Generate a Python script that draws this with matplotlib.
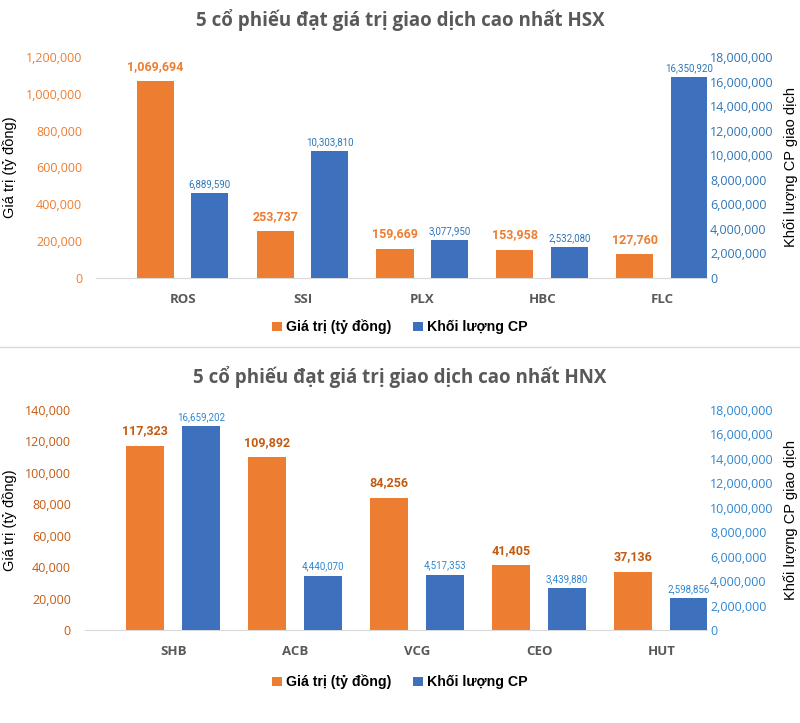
import numpy as np
import matplotlib.pyplot as plt

# HSX data
hsx_codes = ['ROS', 'SSI', 'PLX', 'HBC', 'FLC']
hsx_value = [1069694, 253737, 159669, 153958, 127760]  # tỷ đồng
hsx_volume = [6889590, 10303810, 3077950, 2532080, 16350920]  # cổ phiếu

# HNX data
hnx_codes = ['SHB', 'ACB', 'VCG', 'CEO', 'HUT']
hnx_value = [117323, 109892, 84256, 41405, 37136]
hnx_volume = [16659202, 4440070, 4517353, 3439880, 2598856]

orange = '#ED7D31'
blue = '#3D70BD'
narrow = ['DejaVu Sans Condensed', 'Roboto', 'DejaVu Sans']


def panel(rect, title, codes, value, volume, vmax, vstep, lab_orange, tick_orange,
          lab_blue, tick_blue, title_y, legend_y, lab_x):
    ax = fig.add_axes(rect)
    ax2 = ax.twinx()
    x = np.arange(len(codes))
    w = 0.31
    ax.bar(x - 0.23, value, w, color=orange, label='Giá trị (tỷ đồng)')
    ax2.bar(x + 0.225, volume, w, color=blue, label='Khối lượng CP')

    ax.set_xlim(-0.725, 4.375)
    ax.set_ylim(0, vmax)
    ax.set_yticks(np.arange(0, vmax + 1, vstep))
    ax.yaxis.set_major_formatter(lambda v, p: f'{v:,.0f}')
    ax2.set_ylim(0, 18000000)
    ax2.set_yticks(np.arange(0, 18000001, 2000000))
    ax2.yaxis.set_major_formatter(lambda v, p: f'{v:,.0f}')

    ax.set_xticks(x)
    ax.set_xticklabels(codes, fontfamily='Open Sans', fontweight='bold',
                       fontsize=9.5, color='#595959')
    ax.tick_params(axis='x', length=0, pad=11)
    ax.tick_params(axis='y', length=0, pad=10, labelcolor=tick_orange, labelsize=9)
    ax2.tick_params(axis='y', length=0, pad=2, labelcolor=tick_blue, labelsize=9)
    for t in ax.get_yticklabels() + ax2.get_yticklabels():
        t.set_fontfamily('Open Sans')

    for a in (ax, ax2):
        for s in ('top', 'left', 'right'):
            a.spines[s].set_visible(False)
    ax.spines['bottom'].set_color('#D9D9D9')
    ax2.spines['bottom'].set_visible(False)

    ax.set_ylabel('Giá trị (tỷ đồng)', fontfamily='Liberation Sans', fontsize=10.5)
    ax.yaxis.set_label_coords(lab_x[0], 0.5)
    ax2.set_ylabel('Khối lượng CP giao dịch', fontfamily='Liberation Sans', fontsize=10.5)
    ax2.yaxis.set_label_coords(lab_x[1], 0.5)

    for xi, v in zip(x, value):
        ax.annotate(f'{v:,}', (xi - 0.23, v), xytext=(0, 6), textcoords='offset points',
                    ha='center', va='bottom', color=lab_orange, fontweight='bold',
                    fontsize=9, fontfamily=narrow)
    for xi, v in zip(x, volume):
        ax2.annotate(f'{v:,}', (xi + 0.225, v), xytext=(0, 3), textcoords='offset points',
                     ha='center', va='bottom', color=lab_blue, fontsize=7,
                     fontfamily=narrow)

    fig.text(0.5, title_y, title, ha='center', va='center', fontfamily='Open Sans',
             fontweight='bold', fontsize=13.5, color='#595959')
    h1, l1 = ax.get_legend_handles_labels()
    h2, l2 = ax2.get_legend_handles_labels()
    fig.legend(h1 + h2, l1 + l2, loc='center', bbox_to_anchor=(0.5, legend_y), ncol=2,
               frameon=False, handlelength=0.7, handleheight=0.7, handletextpad=0.3,
               columnspacing=1.5, prop={'family': 'Liberation Sans', 'weight': 'bold', 'size': 10.2})


fig = plt.figure(figsize=(8, 7.23), dpi=100)
panel([0.12, 0.6155, 0.764, 0.3057], '5 cổ phiếu đạt giá trị giao dịch cao nhất HSX',
      hsx_codes, hsx_value, hsx_volume, 1200000, 200000,
      '#ED7D31', '#ED7D31', '#2E75B6', '#2E75B6', 1 - 20 / 723, 1 - 327 / 723,
      (-0.129, 1.124))
panel([0.106, 0.1286, 0.778, 0.3043], '5 cổ phiếu đạt giá trị giao dịch cao nhất HNX',
      hnx_codes, hnx_value, hnx_volume, 140000, 20000,
      '#C55A11', '#C55A11', '#2E86D1', '#2E86D1', 1 - 377 / 723, 1 - 682 / 723,
      (-0.109, 1.122))

fig.add_artist(plt.Line2D([0, 1], [1 - 347 / 723] * 2, color='#D9D9D9', lw=1))

fig.savefig('out.png', dpi=100)
